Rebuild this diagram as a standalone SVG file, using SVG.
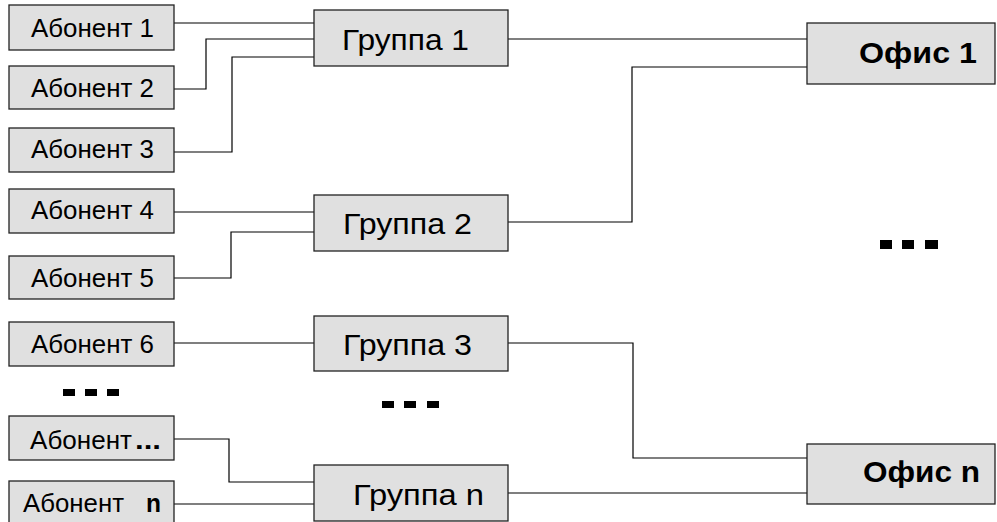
<svg xmlns="http://www.w3.org/2000/svg" width="997" height="522" viewBox="0 0 997 522">
<style>
.box{fill:#e0e0e0;stroke:#222;stroke-width:1.3}
.t{font-family:"Liberation Sans",Arial,sans-serif;fill:#000}
.a{font-size:25px}
.g{font-size:29px}
.o{font-size:30px;font-weight:bold}
.c{fill:none;stroke:#000;stroke-width:1.2}
.d{fill:#000}
</style>
<rect width="997" height="522" fill="#fff"/>
<g id="connectors">
<path class="c" d="M174 23H314"/>
<path class="c" d="M174 89H206V39H314"/>
<path class="c" d="M174 152H232V57H314"/>
<path class="c" d="M508 39H807"/>
<path class="c" d="M508 222H632V67H807"/>
<path class="c" d="M174 212H314"/>
<path class="c" d="M174 278H231V232H314"/>
<path class="c" d="M174 343H314"/>
<path class="c" d="M508 343H633V458H807"/>
<path class="c" d="M174 439H229V482H314"/>
<path class="c" d="M174 504H314"/>
<path class="c" d="M508 493H807"/>
</g>
<g id="ab1"><rect class="box" x="9" y="5" width="165" height="45"/><text class="t a" x="31" y="37" textLength="123" lengthAdjust="spacingAndGlyphs">Абонент 1</text></g>
<g id="ab2"><rect class="box" x="9" y="66" width="165" height="43"/><text class="t a" x="31" y="97" textLength="123" lengthAdjust="spacingAndGlyphs">Абонент 2</text></g>
<g id="ab3"><rect class="box" x="9" y="128" width="165" height="44"/><text class="t a" x="31" y="158" textLength="123" lengthAdjust="spacingAndGlyphs">Абонент 3</text></g>
<g id="ab4"><rect class="box" x="9" y="189" width="165" height="44"/><text class="t a" x="31" y="219" textLength="123" lengthAdjust="spacingAndGlyphs">Абонент 4</text></g>
<g id="ab5"><rect class="box" x="9" y="256" width="165" height="43"/><text class="t a" x="31" y="287" textLength="123" lengthAdjust="spacingAndGlyphs">Абонент 5</text></g>
<g id="ab6"><rect class="box" x="9" y="322" width="165" height="44"/><text class="t a" x="31" y="353" textLength="123" lengthAdjust="spacingAndGlyphs">Абонент 6</text></g>
<g id="abdots"><rect class="box" x="9" y="416" width="165" height="44"/><text class="t a" x="30" y="449" textLength="102" lengthAdjust="spacingAndGlyphs">Абонент</text><text class="t a" x="135" y="449" font-weight="bold" textLength="26" lengthAdjust="spacingAndGlyphs">...</text></g>
<g id="abn"><rect class="box" x="9" y="481" width="165" height="44"/><text class="t a" x="23" y="512" textLength="101" lengthAdjust="spacingAndGlyphs">Абонент</text><text class="t a" x="146" y="512" font-weight="bold" textLength="15" lengthAdjust="spacingAndGlyphs">n</text></g>
<g id="gr1"><rect class="box" x="314" y="10" width="194" height="56"/><text class="t g" x="342" y="50" textLength="127" lengthAdjust="spacingAndGlyphs">Группа  1</text></g>
<g id="gr2"><rect class="box" x="314" y="195" width="194" height="56"/><text class="t g" x="343" y="234" textLength="129" lengthAdjust="spacingAndGlyphs">Группа  2</text></g>
<g id="gr3"><rect class="box" x="314" y="316" width="194" height="55"/><text class="t g" x="343" y="355" textLength="129" lengthAdjust="spacingAndGlyphs">Группа  3</text></g>
<g id="grn"><rect class="box" x="314" y="465" width="194" height="56"/><text class="t g" x="353" y="505" textLength="131" lengthAdjust="spacingAndGlyphs">Группа n</text></g>
<g id="of1"><rect class="box" x="807" y="23" width="188" height="61"/><text class="t o" x="859" y="63" textLength="118" lengthAdjust="spacingAndGlyphs">Офис 1</text></g>
<g id="ofn"><rect class="box" x="807" y="444" width="188" height="60"/><text class="t o" x="863" y="482" textLength="117" lengthAdjust="spacingAndGlyphs">Офис n</text></g>
<g id="dots">
<rect class="d" x="880" y="240" width="12" height="9"/><rect class="d" x="902" y="240" width="12" height="9"/><rect class="d" x="925" y="240" width="13" height="9"/>
<rect class="d" x="63" y="389" width="12" height="7"/><rect class="d" x="85" y="389" width="12" height="7"/><rect class="d" x="107" y="389" width="12" height="7"/>
<rect class="d" x="382" y="401" width="12" height="7"/><rect class="d" x="404" y="401" width="12" height="7"/><rect class="d" x="427" y="401" width="12" height="7"/>
</g>
</svg>
